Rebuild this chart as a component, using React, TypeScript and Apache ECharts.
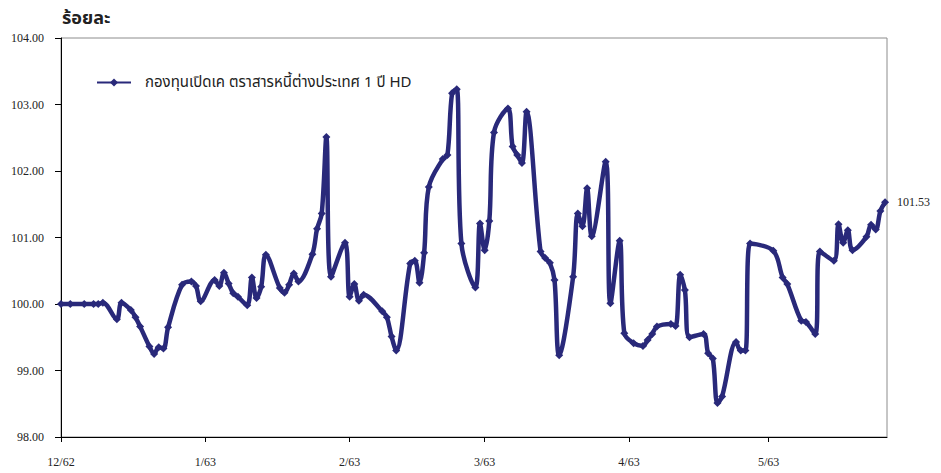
import React, { useEffect, useRef } from "react";
import * as echarts from "echarts";

const dates: string[] = [
  "2019-12-01", "2019-12-03", "2019-12-06", "2019-12-08", "2019-12-09", "2019-12-10",
  "2019-12-13", "2019-12-14", "2019-12-16", "2019-12-17", "2019-12-18", "2019-12-20",
  "2019-12-21", "2019-12-22", "2019-12-23", "2019-12-24", "2019-12-27", "2019-12-29",
  "2019-12-30", "2019-12-31",
  "2020-01-03", "2020-01-04", "2020-01-05", "2020-01-06", "2020-01-07", "2020-01-08",
  "2020-01-10", "2020-01-11", "2020-01-12", "2020-01-13", "2020-01-14", "2020-01-17",
  "2020-01-18", "2020-01-19", "2020-01-20", "2020-01-21", "2020-01-24", "2020-01-25",
  "2020-01-26", "2020-01-27", "2020-01-28", "2020-01-31",
  "2020-02-01", "2020-02-02", "2020-02-03", "2020-02-04", "2020-02-08", "2020-02-09",
  "2020-02-10", "2020-02-11", "2020-02-14", "2020-02-15", "2020-02-16", "2020-02-17",
  "2020-02-18", "2020-02-21", "2020-02-22", "2020-02-23", "2020-02-24", "2020-02-25",
  "2020-02-28", "2020-02-29",
  "2020-03-01", "2020-03-02", "2020-03-03", "2020-03-06", "2020-03-07", "2020-03-08",
  "2020-03-09", "2020-03-10", "2020-03-13", "2020-03-14", "2020-03-15", "2020-03-16",
  "2020-03-17", "2020-03-20", "2020-03-21", "2020-03-22", "2020-03-23", "2020-03-24",
  "2020-03-27", "2020-03-28", "2020-03-30", "2020-03-31",
  "2020-04-02", "2020-04-04", "2020-04-05", "2020-04-06", "2020-04-07", "2020-04-10",
  "2020-04-11", "2020-04-12", "2020-04-13", "2020-04-14", "2020-04-17", "2020-04-18",
  "2020-04-19", "2020-04-20", "2020-04-21", "2020-04-24", "2020-04-25", "2020-04-26",
  "2020-04-27",
  "2020-05-02", "2020-05-04", "2020-05-05", "2020-05-08", "2020-05-09", "2020-05-11",
  "2020-05-12", "2020-05-15", "2020-05-16", "2020-05-17", "2020-05-18", "2020-05-19",
  "2020-05-22", "2020-05-23", "2020-05-24", "2020-05-25", "2020-05-26",
];

const values: number[] = [
  100.0, 100.0, 100.0, 100.0, 100.0, 100.02,
  99.77, 100.02, 99.91, 99.8, 99.66, 99.36,
  99.25, 99.35, 99.33, 99.65, 100.29, 100.34,
  100.27, 100.04,
  100.36, 100.27, 100.47, 100.31, 100.16, 100.11,
  99.98, 100.4, 100.09, 100.26, 100.74, 100.24,
  100.17, 100.29, 100.46, 100.34, 100.75, 101.13,
  101.36, 102.51, 100.41, 100.92,
  100.11, 100.3, 100.05, 100.14, 99.89, 99.8,
  99.51, 99.3, 100.61, 100.65, 100.32, 100.77,
  101.76, 102.18, 102.24, 103.17, 103.23, 100.91,
  100.25, 101.21,
  100.81, 101.25, 102.58, 102.94, 102.37, 102.24,
  102.12, 102.89, 100.79, 100.69, 100.62, 100.36,
  99.23, 100.41, 101.36, 101.17, 101.74, 101.02,
  102.14, 100.01, 100.95, 99.56,
  99.41, 99.37, 99.46, 99.55, 99.66, 99.7,
  99.67, 100.44, 100.21, 99.5, 99.55, 99.26,
  99.18, 98.51, 98.61, 99.43, 99.3, 99.3,
  100.91,
  100.8, 100.4, 100.3, 99.75, 99.73, 99.55,
  100.79, 100.65, 101.2, 100.92, 101.11, 100.81,
  101.01, 101.19, 101.12, 101.4, 101.53,
];

const seriesName = "กองทุนเปิดเค ตราสารหนี้ต่างประเทศ 1 ปี HD";
const unitTitle = "ร้อยละ";
const xMin = "2019-12-01 00:00:00";
const xMax = "2020-05-26 10:00:00";
const yMin = 98;
const yMax = 104;
const yStep = 1;

const LINE_COLOR = "#29297A";
const SERIF = "'Liberation Serif', 'Times New Roman', serif";
const SANS = "Tahoma, 'Noto Sans Thai', 'Noto Sans', 'DejaVu Sans', sans-serif";

export default function App() {
  const ref = useRef<HTMLDivElement>(null);

  useEffect(() => {
    if (!ref.current) return;
    const chart = echarts.init(ref.current, undefined, { renderer: "svg" });
    const data = dates.map((d, i) => [d, values[i]]);
    chart.setOption({
      animation: false,
      backgroundColor: "#ffffff",
      title: {
        text: unitTitle,
        left: 57,
        top: 4,
        textStyle: { fontFamily: SANS, fontSize: 18, fontWeight: "bold", color: "#222" },
      },
      legend: {
        left: 91,
        top: 70,
        itemWidth: 34,
        itemHeight: 10,
        itemGap: 10,
        textStyle: { fontFamily: SANS, fontSize: 15, color: "#222", padding: [0, 0, 0, 9] },
        data: [seriesName],
      },
      grid: {
        left: 61,
        right: 54,
        top: 38,
        bottom: 36,
        show: true,
        borderColor: "#8c8c8c",
        borderWidth: 1,
        backgroundColor: "transparent",
      },
      xAxis: {
        type: "time",
        min: xMin,
        max: xMax,
        splitNumber: 6,
        minInterval: 28 * 86400000,
        maxInterval: 31 * 86400000,
        axisLine: { show: true, lineStyle: { color: "#000", width: 1 } },
        axisTick: { show: true, length: 5, lineStyle: { color: "#000" } },
        splitLine: { show: false },
        minorTick: { show: false },
        axisLabel: {
          margin: 19,
          fontFamily: SERIF,
          fontSize: 12,
          color: "#222",
          hideOverlap: false,
          formatter: (val: number) => {
            const d = new Date(val);
            return `${d.getMonth() + 1}/${(d.getFullYear() + 543) % 100}`;
          },
        },
      },
      yAxis: {
        type: "value",
        min: yMin,
        max: yMax,
        interval: yStep,
        axisLine: { show: true, lineStyle: { color: "#000", width: 1 } },
        axisTick: { show: true, length: 6, lineStyle: { color: "#000" } },
        splitLine: { show: false },
        axisLabel: {
          margin: 17,
          fontFamily: SERIF,
          fontSize: 12,
          color: "#222",
          formatter: (v: number) => v.toFixed(2),
        },
      },
      series: [
        {
          name: seriesName,
          type: "line",
          data,
          smooth: 0.35,
          symbol: "diamond",
          symbolSize: 8,
          showAllSymbol: true,
          color: LINE_COLOR,
          lineStyle: { width: 4.5, color: LINE_COLOR },
          itemStyle: { color: LINE_COLOR },
          endLabel: {
            show: true,
            distance: 12,
            fontFamily: SERIF,
            fontSize: 12,
            color: "#222",
            formatter: (p: any) => Number(p.value[1]).toFixed(2),
          },
        },
      ],
    });
    return () => chart.dispose();
  }, []);

  return (
    <div
      ref={ref}
      style={{ position: "fixed", left: 0, top: 0, width: 941, height: 473, background: "#fff" }}
    />
  );
}
